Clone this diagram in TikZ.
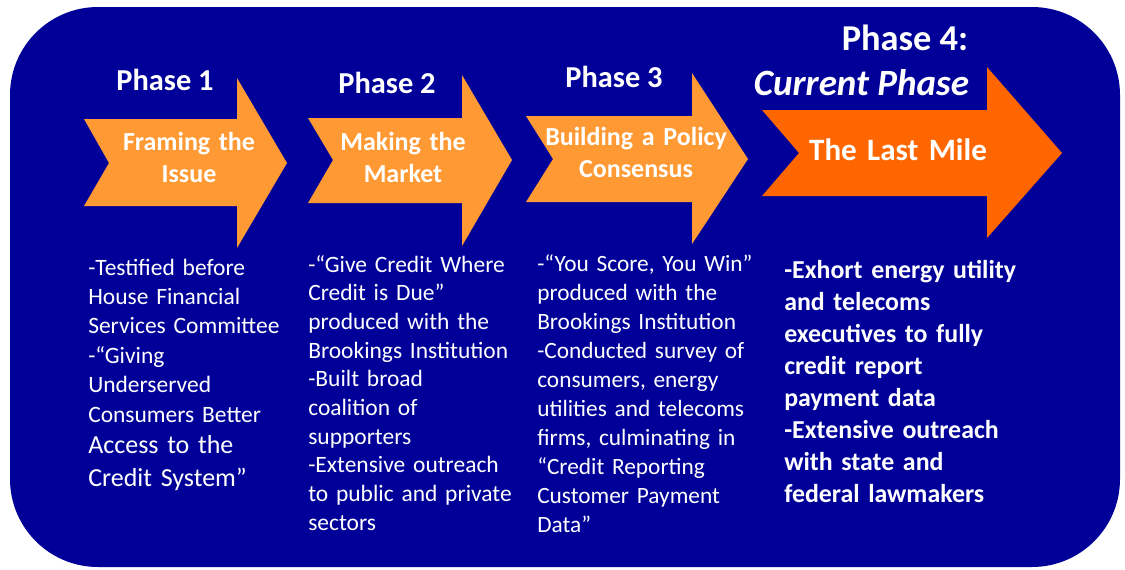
\documentclass[tikz,border=0pt]{standalone}
\usepackage{fontspec}
\setmainfont{Carlito}
\definecolor{bgblue}{HTML}{000099}
\definecolor{lightorange}{HTML}{FF9933}
\definecolor{darkorange}{HTML}{FF6600}
\begin{document}
\begin{tikzpicture}[x=0.75pt,y=-0.75pt,
  hdr/.style={text=white,font=\fontsize{22.8}{26}\selectfont\bfseries,anchor=base,inner sep=0},
  bighdr/.style={hdr,font=\fontsize{27.3}{30}\selectfont\bfseries},
  arrtxt/.style={text=white,font=\fontsize{19.5}{24}\selectfont\bfseries,align=center,text width=160pt,anchor=base,inner sep=0},
  coltxt/.style={text=white,align=left,text width=200pt,anchor=base west,inner sep=0}]
\useasboundingbox (0,0) rectangle (1125,569);
\fill[white] (0,0) rectangle (1125,569);
\fill[bgblue,rounded corners=66pt] (10,7) rectangle (1120,567);
% arrows
\fill[lightorange] (84,119) -- (237,119) -- (237,78) -- (287,163) -- (237,248) -- (237,206) -- (84,206) -- (109,163) -- cycle;
\fill[lightorange] (308,118) -- (462,118) -- (462,75) -- (512,160) -- (462,246) -- (462,203) -- (308,203) -- (333,160) -- cycle;
\fill[lightorange] (526,116) -- (692,116) -- (692,73) -- (748,159) -- (692,244) -- (692,202) -- (526,202) -- (553,159) -- cycle;
\fill[darkorange] (762,110) -- (987,110) -- (987,67) -- (1062,153) -- (987,238) -- (987,196) -- (762,196) -- (799,153) -- cycle;
% headers
\node[hdr] (h1) at (165,90) {Phase 1};
\node[hdr] (h2) at (387,93) {Phase 2};
\node[hdr] (h3) at (614,87) {Phase 3};
\node[bighdr] (h4) at (905,50) {Phase 4:};
\node[bighdr,font=\fontsize{27.8}{30}\selectfont\bfseries\itshape] (h4b) at (861.5,95) {Current Phase};
% arrow texts
\node[arrtxt] (a1) at (189,150) {Framing the\\Issue};
\node[arrtxt] (a2) at (403,150) {Making the\\Market};
\node[arrtxt] (a3) at (636,145) {Building a Policy\\Consensus};
\node[arrtxt,font=\fontsize{23.3}{28}\selectfont\bfseries] (a4) at (898,160) {The Last Mile};
% columns
\node[coltxt,font=\fontsize{17.6}{22.1}\selectfont] (c1a) at (88,275) {-Testified before\\House Financial\\Services Committee\\-“Giving\\Underserved\\Consumers Better};
\node[coltxt,font=\fontsize{19.5}{24.75}\selectfont] (c1b) at (88,453) {Access to the\\Credit System”};
\node[coltxt,font=\fontsize{17.6}{21.5}\selectfont] (c2) at (308,272) {-“Give Credit Where\\Credit is Due”\\produced with the\\Brookings Institution\\-Built broad\\coalition of\\supporters\\-Extensive outreach\\to public and private\\sectors};
\node[coltxt,font=\fontsize{17.5}{21.8}\selectfont] (c3) at (537,271) {-“You Score, You Win”\\produced with the\\Brookings Institution\\-Conducted survey of\\consumers, energy\\utilities and telecoms\\firms, culminating in\\“Credit Reporting\\Customer Payment\\Data”};
\node[coltxt,font=\fontsize{19.4}{24.1}\selectfont\bfseries] (c4) at (784,278) {-Exhort energy utility\\and telecoms\\executives to fully\\credit report\\payment data\\-Extensive outreach\\with state and\\federal lawmakers};
\end{tikzpicture}
\end{document}
